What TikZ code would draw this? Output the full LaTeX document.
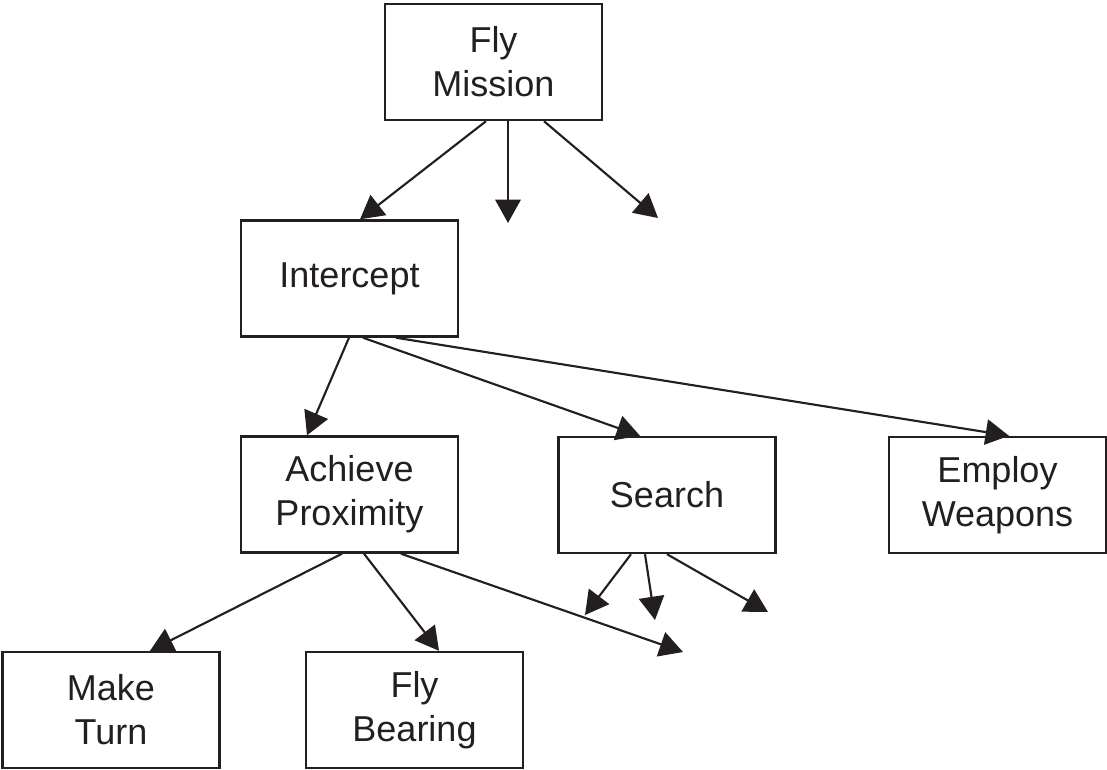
\documentclass[tikz,border=0pt]{standalone}
\usepackage{fontspec}
\setmainfont{Liberation Sans}
\usetikzlibrary{arrows.meta,calc}
\definecolor{ink}{HTML}{231F20}
\tikzset{
  box/.style={draw=ink, line width=1.8pt, rectangle, minimum width=217*0.75pt, minimum height=116*0.75pt,
    inner sep=0pt, align=center, text=ink, font=\fontsize{27pt}{33pt}\selectfont},
  conn/.style={draw=ink, line width=1.6pt, -{Triangle[length=17.5pt,width=19pt]}}
}
\begin{document}
\begin{tikzpicture}[x=0.75pt,y=-0.75pt]
\useasboundingbox (0,0) rectangle (1107,769);
\node[box] (FM) at (493.5,62) {Fly\\Mission};
\node[box] (IC) at (349.5,278.5) {Intercept};
\node[box] (AP) at (349.5,494.5) {Achieve\\Proximity};
\node[box] (SE) at (667,495) {Search};
\node[box] (EW) at (997.5,495) {Employ\\Weapons};
\node[box] (MT) at (111,710) {Make\\Turn};
\node[box] (FB) at (414.5,710) {Fly\\Bearing};
\coordinate (f2) at (508,223);
\coordinate (f3) at (658,218);
\coordinate (a3) at (683,652);
\coordinate (s1) at (585,615);
\coordinate (s2) at (655,620);
\coordinate (s3) at (768,612);
% Fly Mission
\draw[conn] ($(FM.south)+(-7.5,0)$) -- ($(IC.north)+(10.5,0)$);
\draw[conn] ($(FM.south)+(14.5,0)$) -- (f2);
\draw[conn] ($(FM.south)+(50.5,0)$) -- (f3);
% Intercept
\draw[conn] ($(IC.south)+(-0.5,0)$) -- ($(AP.north)+(-42.5,0)$);
\draw[conn] ($(IC.south)+(13.5,0)$) -- ($(SE.north)+(-27,0)$);
\draw[conn] ($(IC.south)+(46.5,0)$) -- ($(EW.north)+(11.5,0)$);
% Achieve Proximity
\draw[conn] ($(AP.south)+(-7.5,0)$) -- ($(MT.north)+(39,0)$);
\draw[conn] ($(AP.south)+(14.5,0)$) -- ($(FB.north)+(24.5,0)$);
\draw[conn] ($(AP.south)+(51.5,0)$) -- (a3);
% Search
\draw[conn] ($(SE.south)+(-36,0)$) -- (s1);
\draw[conn] ($(SE.south)+(-22,0)$) -- (s2);
\draw[conn] ($(SE.south)+(0,0)$) -- (s3);
\end{tikzpicture}
\end{document}
